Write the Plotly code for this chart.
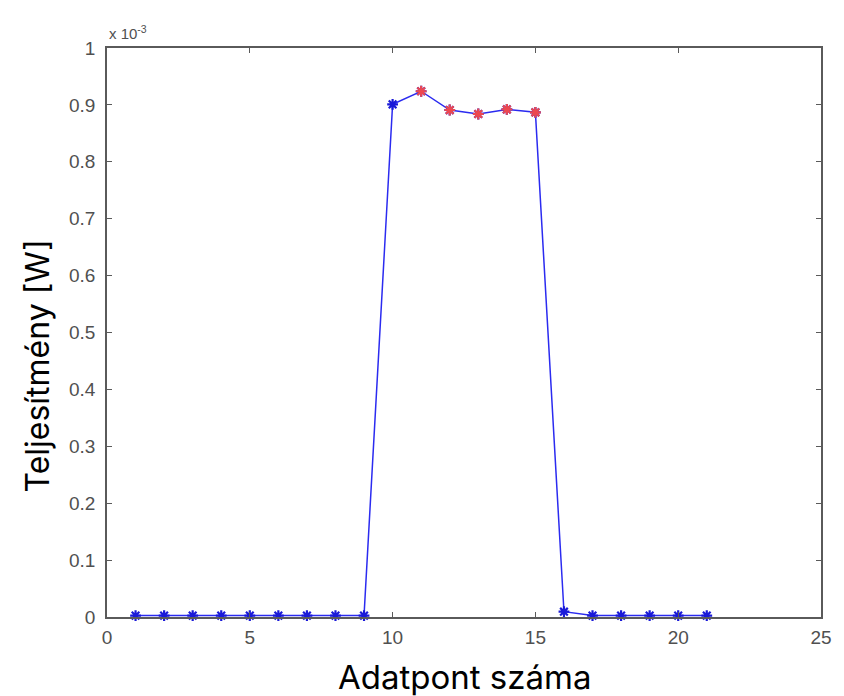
import plotly.graph_objects as go

# Data (power in watts)
point_index = list(range(1, 22))
power_w = [0.0000025, 0.0000025, 0.0000025, 0.0000025, 0.0000025, 0.0000025,
           0.0000025, 0.0000025, 0.0000025, 0.000901, 0.000924, 0.000891,
           0.000884, 0.000892, 0.000887, 0.0000093, 0.0000025, 0.0000025,
           0.0000025, 0.0000025, 0.0000025]
highlight_index = [11, 12, 13, 14, 15]

scale = 1e3
y_scaled = [v * scale for v in power_w]
hl_y = [power_w[i - 1] * scale for i in highlight_index]

x_ticks = [0, 5, 10, 15, 20, 25]
y_ticks = [0, 0.1, 0.2, 0.3, 0.4, 0.5, 0.6, 0.7, 0.8, 0.9, 1]
y_tick_text = ["0", "0.1", "0.2", "0.3", "0.4", "0.5", "0.6", "0.7", "0.8", "0.9", "1"]

fig = go.Figure()
fig.add_trace(go.Scatter(
    x=point_index, y=y_scaled, mode="lines+markers",
    line=dict(color="#2b2bf0", width=1.5),
    marker=dict(symbol="asterisk-open", size=9, color="#1a1ad8",
                line=dict(color="#1a1ad8", width=2.2)),
    showlegend=False, cliponaxis=False,
))
fig.add_trace(go.Scatter(
    x=highlight_index, y=hl_y, mode="markers",
    marker=dict(symbol="asterisk-open", size=9, color="#ec4850",
                line=dict(color="#ec4850", width=2.2)),
    showlegend=False, cliponaxis=False,
))

axis_common = dict(
    showgrid=False, zeroline=False, showline=True, linecolor="#5a5a5a",
    linewidth=1.5, mirror="ticks", ticks="inside", ticklen=5,
    tickcolor="#5a5a5a", tickwidth=1.2,
    tickfont=dict(family="Liberation Sans", size=19, color="#505050"),
)

fig.update_layout(
    width=844, height=696,
    margin=dict(l=107, r=14, t=48, b=79),
    paper_bgcolor="white", plot_bgcolor="white",
    xaxis=dict(range=[0, 25], tickvals=x_ticks, ticklabelstandoff=2, **axis_common),
    yaxis=dict(range=[0, 1], tickvals=y_ticks, ticktext=y_tick_text,
               ticklabelstandoff=6, **axis_common),
    annotations=[
        dict(text="x 10<sup>-3</sup>", x=0, y=1, xref="paper", yref="paper",
             xanchor="left", yanchor="bottom", yshift=4, showarrow=False,
             font=dict(family="Liberation Sans", size=15, color="#505050")),
        dict(text="Adatpont száma", x=0.5, y=0, xref="paper", yref="paper",
             xanchor="center", yanchor="middle", yshift=-60, showarrow=False,
             font=dict(family="Inter", size=33, color="black")),
        dict(text="Teljesítmény [W]", x=0, y=0.5, xref="paper", yref="paper",
             xanchor="center", yanchor="middle", xshift=-70, yshift=-34,
             textangle=-90, showarrow=False,
             font=dict(family="Inter", size=32, color="black")),
    ],
)

fig.write_html("out.html")
